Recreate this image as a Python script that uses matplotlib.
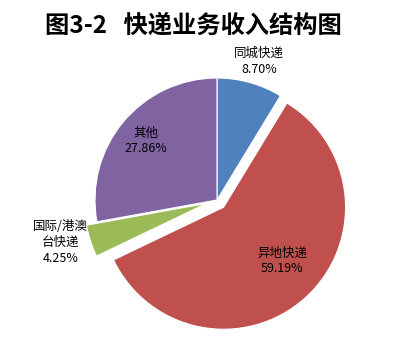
import numpy as np
import matplotlib
matplotlib.use('Agg')
import matplotlib.pyplot as plt

plt.rcParams['font.family'] = ['Noto Sans CJK SC', 'DejaVu Sans']

labels = ['同城快递', '异地快递', '国际/港澳\n台快递', '其他']
shares = [8.70, 59.19, 4.25, 27.86]
colors = ['#4F81BD', '#C0504D', '#9BBB59', '#8064A2']
explode = [0, 0.08, 0.09, 0]
# label placement: distance from pie centre and angle nudge (deg, clockwise)
label_dist = [1.19, 0.73, 1.33, 0.755]
label_nudge = [1.3, -4.7, 2.9, 0]

fig = plt.figure(figsize=(3.98, 3.62), dpi=100)
ax = fig.add_axes([0, 0, 1, 1])

wedges, _ = ax.pie(shares, colors=colors, explode=explode, startangle=90,
                   counterclock=False, radius=1,
                   wedgeprops={'edgecolor': 'white', 'linewidth': 0.8})

for w, lab, val, d, n in zip(wedges, labels, shares, label_dist, label_nudge):
    mid = np.deg2rad((w.theta1 + w.theta2) / 2 - n)
    ax.text(d * np.cos(mid), d * np.sin(mid), '{}\n{:.2f}%'.format(lab, val),
            ha='center', va='center', fontsize=9, linespacing=1.3, color='black')

# pixel-consistent limits: pie centre near (217, 200) px, radius 122 px
ax.set_xlim(-217 / 122, (398 - 217) / 122)
ax.set_ylim((200 - 362) / 122, 200 / 122)
ax.set_aspect('auto')
ax.axis('off')

fig.text(0.487, 0.93, '图3-2   快递业务收入结构图', ha='center', va='center',
         fontsize=17.5, fontweight='bold')

fig.savefig('out.png', dpi=100, facecolor='white')
